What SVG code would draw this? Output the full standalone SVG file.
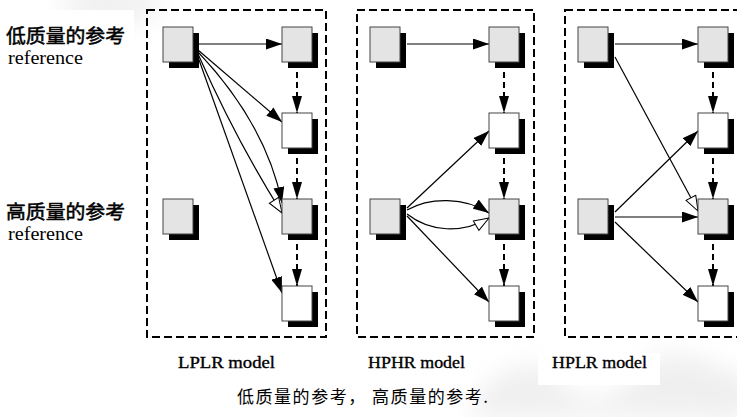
<svg xmlns="http://www.w3.org/2000/svg" width="737" height="417" viewBox="0 0 737 417">
  <defs>
    <style>
      .panel { fill: none; stroke: #000; stroke-width: 2; stroke-dasharray: 8 4; }
      .shadow { fill: #000; }
      .hq { fill: #e4e4e4; stroke: #444; stroke-width: 1; }
      .lq { fill: #fff; stroke: #444; stroke-width: 1; }
      .ref { fill: none; stroke: #000; stroke-width: 1.2; }
      .seq { fill: none; stroke: #000; stroke-width: 2; stroke-dasharray: 6 4; }
      .cjk { font-family: "Noto Sans CJK SC", "Noto Sans", sans-serif; fill: #000; }
      .side { stroke: #000; stroke-width: 0.5; }
      .ser { font-family: "Liberation Serif", "Times New Roman", serif; fill: #000; }
      .model { stroke: #000; stroke-width: 0.35; }
      .bg { fill: #fff; }
      .haze { fill: #dcdcdc; }
    </style>
    <filter id="soft" x="-50%" y="-50%" width="200%" height="200%">
      <feGaussianBlur stdDeviation="12"/>
    </filter>
    <marker id="head" viewBox="0 0 16 11" refX="16" refY="5.5" markerWidth="16" markerHeight="11" markerUnits="userSpaceOnUse" orient="auto">
      <path d="M0,0 L16,5.5 L0,11 Z" fill="#000"/>
    </marker>
    <marker id="open" viewBox="-1 -1 17 13" refX="15" refY="5.5" markerWidth="17" markerHeight="13" markerUnits="userSpaceOnUse" orient="auto">
      <path d="M0,0 L15,5.5 L0,11 Z" fill="#fff" stroke="#000" stroke-width="1"/>
    </marker>
    <marker id="dhead" viewBox="0 0 17 10" refX="17" refY="5" markerWidth="17" markerHeight="10" markerUnits="userSpaceOnUse" orient="auto">
      <path d="M0,0 L17,5 L0,10 Z" fill="#000"/>
    </marker>
  </defs>

  <rect width="737" height="417" fill="#fff"/>

  <!-- faint background watermark -->
  <g id="watermark" opacity="0.45" filter="url(#soft)">
    <ellipse class="haze" cx="110" cy="5" rx="50" ry="18"/>
    <path class="haze" d="M470,417 C480,370 540,350 560,380 C575,405 610,410 640,370 C660,345 700,350 737,380 L737,417 Z"/>
    <ellipse class="haze" cx="720" cy="395" rx="40" ry="25"/>
  </g>

  <!-- label backgrounds -->
  <g id="label-backgrounds">
    <rect class="bg" x="0" y="10" width="134" height="60"/>
    <rect class="bg" x="0" y="188" width="134" height="58"/>
    <rect class="bg" x="165" y="353" width="123" height="32"/>
    <rect class="bg" x="352" y="353" width="121" height="32"/>
    <rect class="bg" x="538" y="353" width="122" height="32"/>
  </g>

  <!-- dashed model frames -->
  <g id="panels">
    <rect id="panel-lplr" class="panel" x="147" y="10" width="179" height="327"/>
    <rect id="panel-hphr" class="panel" x="357" y="10" width="177" height="327"/>
    <rect id="panel-hplr" class="panel" x="565" y="10" width="190" height="327"/>
  </g>

  <!-- connectors -->
  <g id="connectors">
    <!-- LPLR -->
    <line class="ref" x1="198" y1="44" x2="282" y2="44" marker-end="url(#head)"/>
    <line class="ref" x1="198" y1="50" x2="282" y2="122" marker-end="url(#head)"/>
    <path class="ref" d="M198,52 Q266,124 282,203" marker-end="url(#head)"/>
    <path class="ref" d="M198,54 Q236,140 282,213" marker-end="url(#open)"/>
    <line class="ref" x1="198" y1="57" x2="282" y2="293" marker-end="url(#head)"/>
    <line class="seq" x1="297" y1="62" x2="297" y2="113" marker-end="url(#dhead)"/>
    <line class="seq" x1="297" y1="148" x2="297" y2="199" marker-end="url(#dhead)"/>
    <line class="seq" x1="297" y1="234" x2="297" y2="286" marker-end="url(#dhead)"/>

    <!-- HPHR -->
    <line class="ref" x1="407" y1="44" x2="489" y2="44" marker-end="url(#head)"/>
    <line class="ref" x1="407" y1="208" x2="489" y2="131" marker-end="url(#head)"/>
    <path class="ref" d="M407,210 C430,197 465,197 489,213" marker-end="url(#head)"/>
    <path class="ref" d="M407,214 C430,232 462,234 489,218" marker-end="url(#open)"/>
    <line class="ref" x1="407" y1="216" x2="489" y2="302" marker-end="url(#head)"/>
    <line class="seq" x1="504" y1="62" x2="504" y2="113" marker-end="url(#dhead)"/>
    <line class="seq" x1="504" y1="148" x2="504" y2="199" marker-end="url(#dhead)"/>
    <line class="seq" x1="504" y1="234" x2="504" y2="286" marker-end="url(#dhead)"/>

    <!-- HPLR -->
    <line class="ref" x1="615" y1="44" x2="698" y2="44" marker-end="url(#head)"/>
    <line class="ref" x1="615" y1="57" x2="698" y2="211" marker-end="url(#open)"/>
    <line class="ref" x1="615" y1="212" x2="698" y2="131" marker-end="url(#head)"/>
    <line class="ref" x1="615" y1="217" x2="698" y2="217" marker-end="url(#head)"/>
    <line class="ref" x1="615" y1="222" x2="698" y2="302" marker-end="url(#head)"/>
    <line class="seq" x1="713" y1="62" x2="713" y2="113" marker-end="url(#dhead)"/>
    <line class="seq" x1="713" y1="148" x2="713" y2="199" marker-end="url(#dhead)"/>
    <line class="seq" x1="713" y1="234" x2="713" y2="286" marker-end="url(#dhead)"/>
  </g>

  <!-- LPLR nodes -->
  <g id="lplr-ref-low"><rect class="shadow" x="169" y="33" width="30" height="35"/><rect class="hq" x="163" y="27" width="30" height="35"/></g>
  <g id="lplr-ref-high"><rect class="shadow" x="169" y="205" width="30" height="35"/><rect class="hq" x="163" y="199" width="30" height="35"/></g>
  <g id="lplr-f1"><rect class="shadow" x="288" y="33" width="30" height="35"/><rect class="hq" x="282" y="27" width="30" height="35"/></g>
  <g id="lplr-f2"><rect class="shadow" x="288" y="119" width="30" height="35"/><rect class="lq" x="282" y="113" width="30" height="35"/></g>
  <g id="lplr-f3"><rect class="shadow" x="288" y="205" width="30" height="35"/><rect class="hq" x="282" y="199" width="30" height="35"/></g>
  <g id="lplr-f4"><rect class="shadow" x="288" y="292" width="30" height="35"/><rect class="lq" x="282" y="286" width="30" height="35"/></g>

  <!-- HPHR nodes -->
  <g id="hphr-ref-low"><rect class="shadow" x="376" y="33" width="30" height="35"/><rect class="hq" x="370" y="27" width="30" height="35"/></g>
  <g id="hphr-ref-high"><rect class="shadow" x="376" y="205" width="30" height="35"/><rect class="hq" x="370" y="199" width="30" height="35"/></g>
  <g id="hphr-f1"><rect class="shadow" x="495" y="33" width="30" height="35"/><rect class="hq" x="489" y="27" width="30" height="35"/></g>
  <g id="hphr-f2"><rect class="shadow" x="495" y="119" width="30" height="35"/><rect class="lq" x="489" y="113" width="30" height="35"/></g>
  <g id="hphr-f3"><rect class="shadow" x="495" y="205" width="30" height="35"/><rect class="hq" x="489" y="199" width="30" height="35"/></g>
  <g id="hphr-f4"><rect class="shadow" x="495" y="292" width="30" height="35"/><rect class="lq" x="489" y="286" width="30" height="35"/></g>

  <!-- HPLR nodes -->
  <g id="hplr-ref-low"><rect class="shadow" x="584" y="33" width="30" height="35"/><rect class="hq" x="578" y="27" width="30" height="35"/></g>
  <g id="hplr-ref-high"><rect class="shadow" x="584" y="205" width="30" height="35"/><rect class="hq" x="578" y="199" width="30" height="35"/></g>
  <g id="hplr-f1"><rect class="shadow" x="704" y="33" width="30" height="35"/><rect class="hq" x="698" y="27" width="30" height="35"/></g>
  <g id="hplr-f2"><rect class="shadow" x="704" y="119" width="30" height="35"/><rect class="lq" x="698" y="113" width="30" height="35"/></g>
  <g id="hplr-f3"><rect class="shadow" x="704" y="205" width="30" height="35"/><rect class="hq" x="698" y="199" width="30" height="35"/></g>
  <g id="hplr-f4"><rect class="shadow" x="704" y="292" width="30" height="35"/><rect class="lq" x="698" y="286" width="30" height="35"/></g>

  <!-- side labels -->
  <g id="label-low">
    <text class="cjk side" x="6" y="43" font-size="19" textLength="119" lengthAdjust="spacingAndGlyphs">低质量的参考</text>
    <text class="ser" x="8" y="64" font-size="19" textLength="75" lengthAdjust="spacingAndGlyphs">reference</text>
  </g>
  <g id="label-high">
    <text class="cjk side" x="6" y="219" font-size="19" textLength="119" lengthAdjust="spacingAndGlyphs">高质量的参考</text>
    <text class="ser" x="8" y="240" font-size="19" textLength="75" lengthAdjust="spacingAndGlyphs">reference</text>
  </g>

  <!-- model names -->
  <g id="model-labels" font-size="17">
    <text class="ser model" x="178" y="368" textLength="97" lengthAdjust="spacingAndGlyphs">LPLR model</text>
    <text class="ser model" x="368" y="368" textLength="97" lengthAdjust="spacingAndGlyphs">HPHR model</text>
    <text class="ser model" x="552" y="368" textLength="95" lengthAdjust="spacingAndGlyphs">HPLR model</text>
  </g>

  <!-- caption -->
  <text id="caption" class="cjk" x="237" y="403" font-size="17" textLength="251" lengthAdjust="spacing">低质量的参考， 高质量的参考.</text>
</svg>
